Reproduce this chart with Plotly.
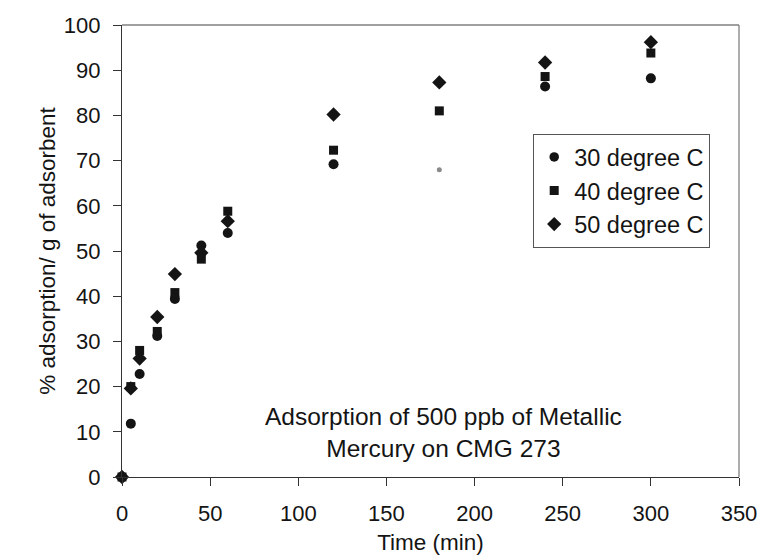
import plotly.graph_objects as go

time_min = [0, 5, 10, 20, 30, 45, 60, 120, 180, 240, 300]
ads_30C = [0, 11.8, 22.8, 31.2, 39.4, 51.2, 54.0, 69.2, 68.0, 86.4, 88.2]
ads_40C = [0, 20.0, 28.0, 32.2, 40.8, 48.2, 58.8, 72.3, 81.0, 88.6, 93.8]
ads_50C = [0, 19.6, 26.2, 35.4, 44.9, 49.6, 56.6, 80.2, 87.3, 91.7, 96.2]
series_names = ["30 degree C", "40 degree C", "50 degree C"]
x_ticks = [0, 50, 100, 150, 200, 250, 300, 350]
y_ticks = [0, 10, 20, 30, 40, 50, 60, 70, 80, 90, 100]

FONT = "Liberation Sans, Arial, sans-serif"
INK = "#141414"

W, H = 760, 560
ML, MR, MT, MB = 122, 21, 25, 83
PW, PH = W - ML - MR, H - MT - MB

def px_to_paper(px, py):
    return (px - ML) / PW, (H - MB - py) / PH

# the 30 degree point at 180 min is printed much fainter/smaller in the source
sizes_30 = [10] * len(time_min)
colors_30 = [INK] * len(time_min)
faint_idx = time_min.index(180)
sizes_30[faint_idx] = 5
colors_30[faint_idx] = "#8a8a8a"

fig = go.Figure()
fig.add_trace(go.Scatter(x=time_min, y=ads_30C, mode="markers", name=series_names[0],
                         marker=dict(symbol="circle", size=sizes_30, color=colors_30,
                                     opacity=1, line=dict(width=0)),
                         cliponaxis=False))
fig.add_trace(go.Scatter(x=time_min, y=ads_40C, mode="markers", name=series_names[1],
                         marker=dict(symbol="square", size=9, color=INK, line=dict(width=0)),
                         cliponaxis=False))
fig.add_trace(go.Scatter(x=time_min, y=ads_50C, mode="markers", name=series_names[2],
                         marker=dict(symbol="diamond", size=11, color=INK, line=dict(width=0)),
                         cliponaxis=False))

ax, ay = px_to_paper(443, 432)
lx, ly = px_to_paper(533, 134)
fig.update_layout(
    width=W, height=H,
    margin=dict(l=ML, r=MR, t=MT, b=MB, autoexpand=False),
    paper_bgcolor="white", plot_bgcolor="white",
    font=dict(family=FONT, size=22, color=INK),
    showlegend=True,
    legend=dict(x=lx, y=ly, xanchor="left", yanchor="top",
                bordercolor="#555", borderwidth=1.2, bgcolor="white",
                font=dict(size=23.5, color=INK),
                tracegroupgap=0),
    annotations=[dict(xref="paper", yref="paper", x=ax, y=ay,
                      text="Adsorption of 500 ppb of Metallic<br>Mercury on CMG 273",
                      showarrow=False, font=dict(size=24.5, color=INK),
                      xanchor="center", yanchor="middle", align="center")],
    shapes=[
        dict(type="line", xref="paper", yref="paper", x0=0, x1=1, y0=1, y1=1,
             line=dict(color="#808080", width=1.3)),
        dict(type="line", xref="paper", yref="paper", x0=1, x1=1, y0=0, y1=1,
             line=dict(color="#808080", width=1.3)),
    ],
)
fig.update_xaxes(range=[0, 350], tickvals=x_ticks, ticks="outside", ticklen=8,
                 tickcolor="#333", showline=True, linecolor="#333", linewidth=1.3,
                 showgrid=False, zeroline=False,
                 title=dict(text="Time (min)", font=dict(size=22.5), standoff=9),
                 ticklabelstandoff=8)
fig.update_yaxes(range=[0, 100], tickvals=y_ticks, ticks="outside", ticklen=8,
                 tickcolor="#333", showline=True, linecolor="#333", linewidth=1.3,
                 showgrid=False, zeroline=False,
                 title=dict(text="% adsorption/ g of adsorbent", font=dict(size=22.5), standoff=1),
                 ticklabelstandoff=8)

fig.write_html("out.html")
